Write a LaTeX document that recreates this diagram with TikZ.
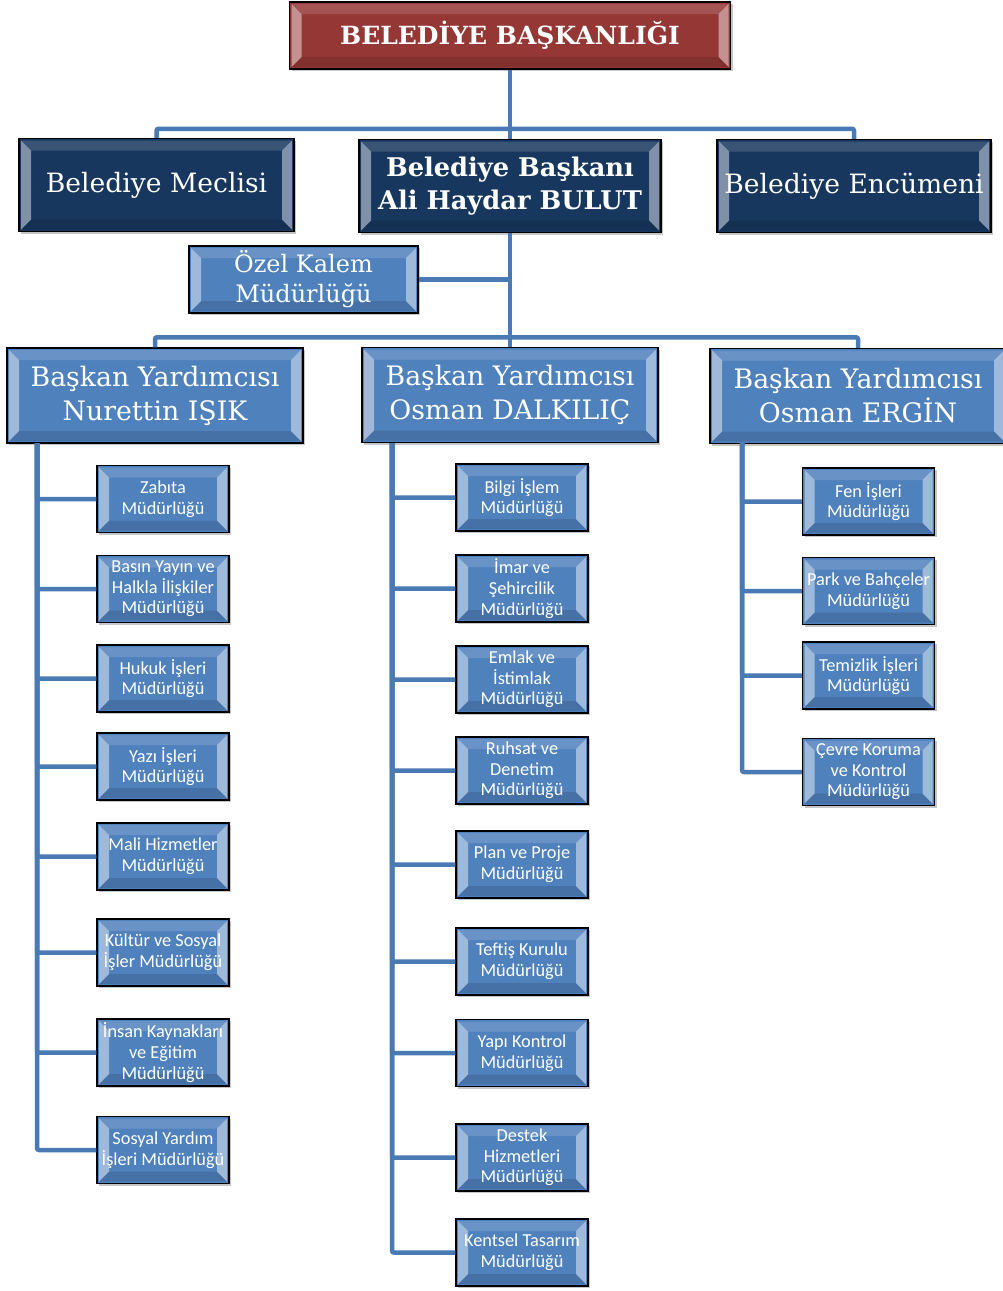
\documentclass[tikz,border=0pt]{standalone}
\usepackage{fontspec}
\setmainfont{DejaVu Serif}
\newfontfamily\calibri{Carlito}
\usetikzlibrary{shapes,shadows}

\definecolor{kirmizi}{RGB}{149,55,53}
\definecolor{lacivert}{RGB}{23,55,94}
\definecolor{mavi}{RGB}{79,129,189}
\definecolor{hatrengi}{RGB}{74,122,180}

\tikzset{
  yansima/.style={path picture={
    \fill[white,opacity=.45] ([shift={(2pt,-2pt)}]path picture bounding box.north west) -- ++(10pt,-10pt)
      -- ([shift={(12pt,12pt)}]path picture bounding box.south west) -- ++(-10pt,-10pt) -- cycle;
    \fill[white,opacity=.45] ([shift={(-2pt,-2pt)}]path picture bounding box.north east) -- ++(-10pt,-10pt)
      -- ([shift={(-12pt,12pt)}]path picture bounding box.south east) -- ++(10pt,-10pt) -- cycle;
    \fill[white,opacity=.15] ([shift={(2pt,-2pt)}]path picture bounding box.north west) -- ++(10pt,-10pt)
      -- ([shift={(-12pt,-12pt)}]path picture bounding box.north east) -- ++(10pt,10pt) -- cycle;
    \fill[black,opacity=.12] ([shift={(2pt,2pt)}]path picture bounding box.south west) -- ++(10pt,10pt)
      -- ([shift={(-12pt,12pt)}]path picture bounding box.south east) -- ++(10pt,-10pt) -- cycle;
  }},
  kutu/.style={draw=black, rectangle, line width=1.4pt, text=white, align=center, inner sep=0pt,
    drop shadow={shadow xshift=2pt, shadow yshift=-2pt, opacity=.45}, yansima},
  baskanlik/.style={kutu, fill=kirmizi, minimum width=441pt, minimum height=67pt,
    font=\bfseries\fontsize{25}{32}\selectfont},
  lacivertkutu/.style={kutu, fill=lacivert, minimum width=275pt, minimum height=93pt,
    font=\fontsize{26.6}{33}\selectfont},
  yardimci/.style={kutu, fill=mavi, minimum width=296pt, minimum height=95pt,
    font=\fontsize{26.8}{34}\selectfont},
  mudurluk/.style={kutu, fill=mavi, minimum width=132pt, minimum height=67pt,
    font=\calibri\fontsize{18.3}{20.6}\selectfont},
  baglanti/.style={draw=hatrengi, line width=4.5pt, rounded corners=2pt}
}

\begin{document}
\begin{tikzpicture}[x=1pt, y=-1pt]
  \useasboundingbox (0,0) rectangle (1003,1291);

    % Ust kademe
    \node [baskanlik] (baskanlik) at (510,35.5) {BELEDİYE BAŞKANLIĞI};
    \node [lacivertkutu, minimum width=302pt, below of=baskanlik, node distance=150.5pt,
      font=\bfseries\fontsize{25.7}{33}\selectfont] (baskan) {Belediye Başkanı\\Ali Haydar BULUT};
    \node [lacivertkutu, left of=baskan, node distance=353.5pt, yshift=1pt] (meclis) {Belediye Meclisi};
    \node [lacivertkutu, right of=baskan, node distance=344pt, minimum width=274pt] (encumen) {Belediye Encümeni};
    \node [kutu, fill=mavi, minimum width=229pt, minimum height=67pt, below of=baskan, node distance=93.5pt,
      xshift=-206.5pt, font=\fontsize{24}{30}\selectfont] (ozelkalem) {Özel Kalem\\Müdürlüğü};

    % Baskan yardimcilari
    \node [yardimci, below of=baskan, node distance=209pt] (yard2) {Başkan Yardımcısı\\Osman DALKILIÇ};
    \node [yardimci, left of=yard2, node distance=355pt, yshift=-0.5pt] (yard1) {Başkan Yardımcısı\\Nurettin IŞIK};
    \node [yardimci, right of=yard2, node distance=348pt, yshift=-1pt] (yard3) {Başkan Yardımcısı\\Osman ERGİN};

    % Sol sutun
    \node [mudurluk, below of=yard1, node distance=103.5pt, xshift=8pt] (zabita) {Zabıta\\Müdürlüğü};
    \node [mudurluk, below of=zabita, node distance=90pt] (basin) {Basın Yayın ve\\Halkla İlişkiler\\Müdürlüğü};
    \node [mudurluk, below of=basin, node distance=89.5pt] (hukuk) {Hukuk İşleri\\Müdürlüğü};
    \node [mudurluk, below of=hukuk, node distance=88pt] (yazi) {Yazı İşleri\\Müdürlüğü};
    \node [mudurluk, below of=yazi, node distance=90pt] (mali) {Mali Hizmetler\\Müdürlüğü};
    \node [mudurluk, below of=mali, node distance=96pt] (kultur) {Kültür ve Sosyal\\İşler Müdürlüğü};
    \node [mudurluk, below of=kultur, node distance=100pt] (insan) {İnsan Kaynakları\\ve Eğitim\\Müdürlüğü};
    \node [mudurluk, below of=insan, node distance=97.5pt] (sosyal) {Sosyal Yardım\\İşleri Müdürlüğü};

    % Orta sutun
    \node [mudurluk, below of=yard2, node distance=102.5pt, xshift=12pt] (bilgi) {Bilgi İşlem\\Müdürlüğü};
    \node [mudurluk, below of=bilgi, node distance=91pt] (imar) {İmar ve\\Şehircilik\\Müdürlüğü};
    \node [mudurluk, below of=imar, node distance=91pt] (emlak) {Emlak ve\\İstimlak\\Müdürlüğü};
    \node [mudurluk, below of=emlak, node distance=91pt] (ruhsat) {Ruhsat ve\\Denetim\\Müdürlüğü};
    \node [mudurluk, below of=ruhsat, node distance=94pt] (plan) {Plan ve Proje\\Müdürlüğü};
    \node [mudurluk, below of=plan, node distance=97pt] (teftis) {Teftiş Kurulu\\Müdürlüğü};
    \node [mudurluk, below of=teftis, node distance=91.5pt] (yapi) {Yapı Kontrol\\Müdürlüğü};
    \node [mudurluk, below of=yapi, node distance=104.5pt] (destek) {Destek\\Hizmetleri\\Müdürlüğü};
    \node [mudurluk, below of=destek, node distance=95pt] (kentsel) {Kentsel Tasarım\\Müdürlüğü};

    % Sag sutun
    \node [mudurluk, below of=yard3, node distance=105.5pt, xshift=10.5pt] (fen) {Fen İşleri\\Müdürlüğü};
    \node [mudurluk, below of=fen, node distance=89.5pt] (park) {Park ve Bahçeler\\Müdürlüğü};
    \node [mudurluk, below of=park, node distance=84.5pt] (temizlik) {Temizlik İşleri\\Müdürlüğü};
    \node [mudurluk, below of=temizlik, node distance=96.5pt] (cevre) {Çevre Koruma\\ve Kontrol\\Müdürlüğü};

    % Baglanti hatlari
    \draw [baglanti] (baskanlik) -- (baskan);
    \draw [baglanti] (baskan) -- (yard2);
    \draw [baglanti] (meclis.north) -- ++(0,-9) -| (encumen.north);
    \draw [baglanti] (yard1.north) -- ++(0,-10) -| (yard3.north);
    \draw [baglanti] (ozelkalem.east) -- (ozelkalem.east -| baskan.south);

    \coordinate (solhat) at (37,443);
    \coordinate (ortahat) at (392,443);
    \coordinate (saghat) at (742,443);
    \foreach \m in {zabita,basin,hukuk,yazi,mali,kultur,insan,sosyal}
      \draw [baglanti] (solhat) |- (\m.west);
    \foreach \m in {bilgi,imar,emlak,ruhsat,plan,teftis,yapi,destek,kentsel}
      \draw [baglanti] (ortahat) |- (\m.west);
    \foreach \m in {fen,park,temizlik,cevre}
      \draw [baglanti] (saghat) |- (\m.west);

\end{tikzpicture}
\end{document}
